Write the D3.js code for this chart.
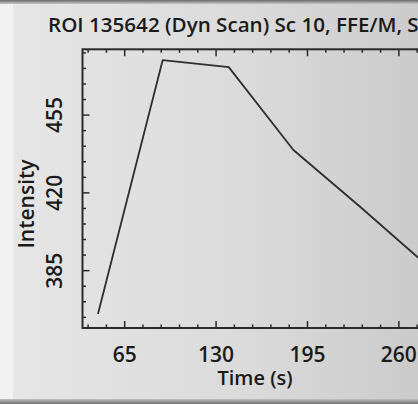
<!DOCTYPE html>
<html><head><meta charset="utf-8">
<script src="https://cdn.jsdelivr.net/npm/d3@7"></script>
<style>html,body{margin:0;padding:0;overflow:hidden;background:#dcdcdc}</style>
</head><body>
<script>
const titleText = "ROI 135642 (Dyn Scan) Sc 10, FFE/M, SE";
const titlePrefix = "ROI 135642 (Dyn Scan) Sc 10, FFE/M,";
const xLabel = "Time (s)";
const yLabel = "Intensity";
const times = [46, 92, 139, 185, 232, 278];
const intensity = [365.5, 479.7, 476.6, 439.3, 414, 388.5];
const xMajorTicks = [65, 130, 195, 260];
const xMinorTicks = [39, 52, 78, 91, 104, 117, 143, 156, 169, 182, 208, 221, 234, 247, 273];
const yMajorTicks = [385, 420, 455];
const yMinorTicks = [364, 371, 378, 392, 399, 406, 413, 427, 434, 441, 448, 462, 469, 476, 483];
const xDomain = [35, 280];
const yDomain = [359.2, 484.6];

(function () {
const W = 418, H = 404;
const font = "'Open Sans', 'Noto Sans', sans-serif";
const svg = d3.select("body").append("svg").attr("width", W).attr("height", H);

const defs = svg.append("defs");
const g = defs.append("linearGradient").attr("id", "bg").attr("x1", 0).attr("x2", 1).attr("y1", 0).attr("y2", 0);
g.append("stop").attr("offset", 0).attr("stop-color", "#e6e6e6");
g.append("stop").attr("offset", 0.6).attr("stop-color", "#dadada");
g.append("stop").attr("offset", 1).attr("stop-color", "#cbcbcb");
svg.append("rect").attr("width", W).attr("height", H).attr("fill", "url(#bg)");
svg.append("rect").attr("width", 13).attr("height", H).attr("fill", "#f2f2f2");
const tg = defs.append("linearGradient").attr("id", "tb").attr("x1", 0).attr("x2", 0).attr("y1", 0).attr("y2", 1);
tg.append("stop").attr("offset", 0).attr("stop-color", "#6a6a6a");
tg.append("stop").attr("offset", 1).attr("stop-color", "#c8c8c8");
svg.append("rect").attr("width", W).attr("height", 4).attr("fill", "url(#tb)");
const bg2 = defs.append("linearGradient").attr("id", "bb").attr("x1", 0).attr("x2", 0).attr("y1", 0).attr("y2", 1);
bg2.append("stop").attr("offset", 0).attr("stop-color", "#c0c0c0");
bg2.append("stop").attr("offset", 1).attr("stop-color", "#707070");
svg.append("rect").attr("y", 399).attr("width", W).attr("height", 5).attr("fill", "url(#bb)");

const pL = 82.5, pR = 427, pT = 49.3, pB = 328;
const x = d3.scaleLinear().domain(xDomain).range([pL, pR]);
const y = d3.scaleLinear().domain(yDomain).range([pB, pT]);
const ink = "#2a2a2a";

svg.append("rect").attr("x", pL).attr("y", pT).attr("width", pR - pL).attr("height", pB - pT)
  .attr("fill", "none").attr("stroke", ink).attr("stroke-width", 2);

function xTicks(vals, len) {
  svg.append("g").selectAll("line").data(vals).join("line")
    .attr("x1", d => x(d)).attr("x2", d => x(d)).attr("y1", pB).attr("y2", pB - len)
    .attr("stroke", ink).attr("stroke-width", 1.5);
  svg.append("g").selectAll("line").data(vals).join("line")
    .attr("x1", d => x(d)).attr("x2", d => x(d)).attr("y1", pT).attr("y2", pT + len)
    .attr("stroke", ink).attr("stroke-width", 1.5);
}
xTicks(xMajorTicks, 7); xTicks(xMinorTicks, 3.5);
function yTicks(vals, len) {
  svg.append("g").selectAll("line").data(vals).join("line")
    .attr("x1", pL).attr("x2", pL + len).attr("y1", d => y(d)).attr("y2", d => y(d))
    .attr("stroke", ink).attr("stroke-width", 1.5);
}
yTicks(yMajorTicks, 7); yTicks(yMinorTicks, 3.5);

svg.append("g").selectAll("text").data(xMajorTicks).join("text")
  .attr("x", d => x(d)).attr("y", 362).attr("text-anchor", "middle")
  .attr("font-family", font).attr("font-weight", 600).attr("font-size", 21).attr("fill", "#1a1a1a")
  .text(d => d);
svg.append("g").selectAll("text").data(yMajorTicks).join("text")
  .attr("transform", d => `translate(62,${y(d)}) rotate(-90)`).attr("text-anchor", "middle")
  .attr("font-family", font).attr("font-weight", 600).attr("font-size", 21).attr("fill", "#1a1a1a")
  .text(d => d);

svg.append("text").attr("x", 255).attr("y", 385).attr("text-anchor", "middle")
  .attr("font-family", font).attr("font-weight", 600).attr("font-size", 20).attr("fill", "#1a1a1a").text(xLabel);
svg.append("text").attr("transform", "translate(34,204) rotate(-90)").attr("text-anchor", "middle")
  .attr("font-family", font).attr("font-weight", 600).attr("font-size", 21).attr("fill", "#1a1a1a").text(yLabel);

const title = svg.append("text").attr("x", 48).attr("y", 32)
  .attr("font-family", font).attr("font-weight", 600).attr("font-size", 20).attr("fill", "#1a1a1a").text(titlePrefix);
const pw = title.node().getComputedTextLength();
title.text(titleText);
const fw = title.node().getComputedTextLength();
title.attr("textLength", fw * 354 / pw).attr("lengthAdjust", "spacingAndGlyphs");

const pts = times.map((t, i) => [t, intensity[i]]);
svg.append("path").datum(pts)
  .attr("d", d3.line().x(d => x(d[0])).y(d => y(d[1])))
  .attr("fill", "none").attr("stroke", "#2e2e2e").attr("stroke-width", 1.8).attr("stroke-linejoin", "round");
})();
</script>
</body></html>
